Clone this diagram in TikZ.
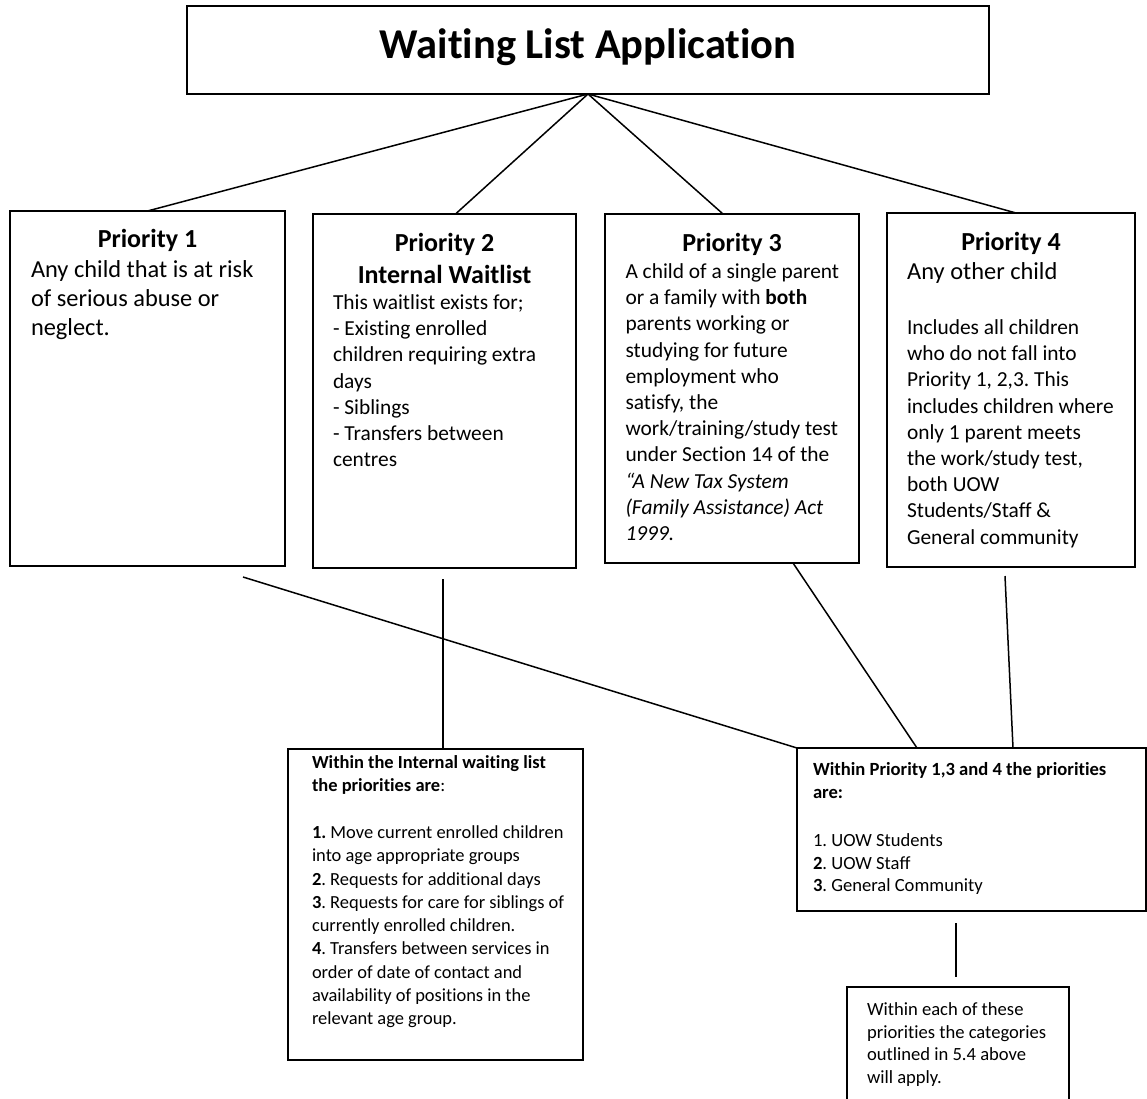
\documentclass[tikz,border=0pt]{standalone}
\usepackage{fontspec}
\setmainfont{Carlito}[Ligatures=NoCommon]
\newcommand\fsTitle{\fontsize{42.5}{50}\selectfont}
\newcommand\fsHead{\fontsize{26}{32}\selectfont}
\newcommand\fsBig{\fontsize{24.4}{29}\selectfont}
\newcommand\fsMid{\fontsize{21.4}{26.2}\selectfont}
\newcommand\fsSmall{\fontsize{18.45}{23.3}\selectfont}
\newcommand\fsSmallB{\fontsize{18.6}{22.5}\selectfont}
\frenchspacing
\begin{document}
\begin{tikzpicture}[x=1pt,y=-1pt,
  box/.style={draw, line width=1.6pt, inner sep=0pt, outer sep=0pt, anchor=north west},
  conn/.style={line width=1.5pt},
  txt/.style={inner sep=0pt, outer sep=0pt, anchor=north west, align=flush left, text width=340pt},
  head/.style={inner sep=0pt, outer sep=0pt, anchor=base, font=\fsHead\bfseries}]
\useasboundingbox (0,0) rectangle (1147,1098);
\fill[white] (0,0) rectangle (1147,1098);

% boxes
\node[box, minimum width=802pt, minimum height=88pt] (top) at (187,6) {};
\node[box, minimum width=275pt, minimum height=355pt] (p1) at (10,211) {};
\node[box, minimum width=263pt, minimum height=354pt] (p2) at (313,214) {};
\node[box, minimum width=254pt, minimum height=349pt] (p3) at (605,214) {};
\node[box, minimum width=248pt, minimum height=354pt] (p4) at (887,213) {};
\node[box, minimum width=295pt, minimum height=311pt] (int) at (288,749) {};
\node[box, minimum width=349pt, minimum height=163pt] (rb) at (797,748) {};
\node[box, minimum width=222pt, minimum height=130pt] (fin) at (847,987) {};

% title
\node[inner sep=0pt, anchor=base, font=\fsTitle\bfseries] (title) at (588,58) {Waiting List Application};

% Priority 1
\node[head] (h1) at (147.5,247) {Priority 1};
\node[txt, font=\fsBig] (t1) at (31,256.7) {\strut Any child that is at risk\\ of serious abuse or\\ neglect.};

% Priority 2
\node[head] (h2a) at (444.5,251) {Priority 2};
\node[head] (h2b) at (444.5,283) {Internal Waitlist};
\node[txt, font=\fsMid] (t2) at (333,291.2) {\strut This waitlist exists for;\\ - Existing enrolled\\ children requiring extra\\ days\\ - Siblings\\ - Transfers between\\ centres};

% Priority 3
\node[head] (h3) at (732,251) {Priority 3};
\node[txt, font=\fsMid] (t3) at (625.5,260.2) {\strut A child of a single parent\\ or a family with \textbf{both}\\ parents working or\\ studying for future\\ employment who\\ satisfy, the\\ work/training/study test\\ under Section 14 of the\\ \textit{“A New Tax System}\\ \textit{(Family Assistance) Act}\\ \textit{1999.}};

% Priority 4
\node[head] (h4) at (1011,250) {Priority 4};
\node[inner sep=0pt, anchor=base west, font=\fsBig] (t4a) at (907,279) {Any other child};
\node[txt, font=\fsMid] (t4) at (907,316.2) {\strut Includes all children\\ who do not fall into\\ Priority 1, 2,3. This\\ includes children where\\ only 1 parent meets\\ the work/study test,\\ both UOW\\ Students/Staff \&\\ General community};

% internal list
\node[txt, font=\fsSmall] (ti) at (312,752.2) {\strut \textbf{Within the Internal waiting list}\\ \textbf{the priorities are}:\\[23.3pt] \textbf{1.} Move current enrolled children\\ into age appropriate groups\\ \textbf{2}. Requests for additional days\\ \textbf{3}. Requests for care for siblings of\\ currently enrolled children.\\ \textbf{4}. Transfers between services in\\ order of date of contact and\\ availability of positions in the\\ relevant age group.};

% right box
\node[txt, font=\fsSmallB] (tr) at (813,759.75) {\strut \textbf{Within Priority 1,3 and 4 the priorities}\\ \textbf{are:}\\[26pt] 1. UOW Students\\ \textbf{2}. UOW Staff\\ \textbf{3}. General Community};

% final box
\node[txt, font=\fsSmallB] (tf) at (867,999.75) {\strut Within each of these\\ priorities the categories\\ outlined in 5.4 above\\ will apply.};

% connectors from top
\draw[conn] (top.south) -- (p1.north);
\draw[conn] (top.south) -- ([xshift=11pt]p2.north);
\draw[conn] (top.south) -- ([xshift=-9pt]p3.north);
\draw[conn] (top.south) -- ([xshift=5pt]p4.north);

% lower connectors
\coordinate (c1) at (243,577);
\coordinate (c2) at (443,579);
\coordinate (c4) at (1005,576);
\coordinate (c5) at (956,923);
\coordinate (c6) at (956,977);
\draw[conn] (c1) -- (rb.north west);
\draw[conn] (c2) -- (c2 |- int.north);
\draw[conn] ([xshift=61pt]p3.south) -- ([xshift=-54.5pt]rb.north);
\draw[conn] (c4) -- ([xshift=41.5pt]rb.north);
\draw[conn] (c5) -- (c6);
\end{tikzpicture}
\end{document}
